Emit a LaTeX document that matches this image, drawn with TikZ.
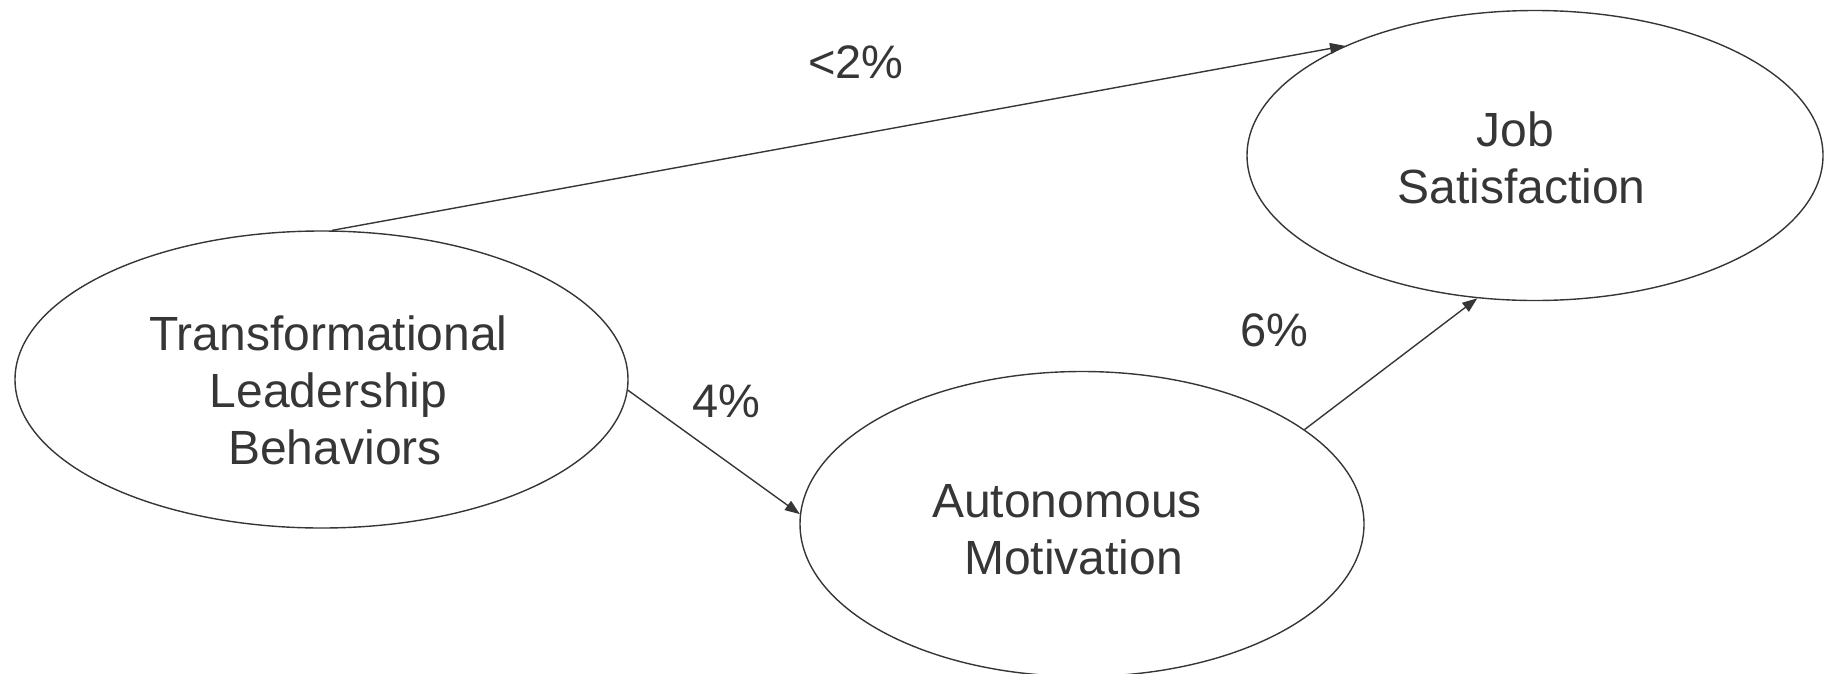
\documentclass[tikz,border=0pt]{standalone}
\usepackage{fontspec}
\setmainfont{Liberation Sans}
\usetikzlibrary{shapes.geometric,arrows.meta}
\definecolor{ink}{HTML}{363636}
\newcommand\elltext[3]{\kern#1\raisebox{#2}[\height][\depth]{\begin{tabular}{@{}c@{}}#3\end{tabular}}\kern-#1}
\newcommand\lead{\hspace*{13pt}}
\tikzset{
  ell/.style={ellipse, draw=ink, line width=1.4pt, inner sep=0pt, text=ink,
    font=\fontsize{48}{57}\selectfont},
  pct/.style={text=ink, inner sep=0pt, font=\fontsize{47}{56}\selectfont},
  link/.style={draw=ink, line width=1.4pt, -{Triangle[length=15pt,width=11pt]}}
}
\begin{document}
\begin{tikzpicture}[x=1pt,y=-1pt]
\useasboundingbox (0,0) rectangle (1826,673);
\node[ell, minimum width=613pt, minimum height=297pt] (TL) at (321.5,379.5)
  {\elltext{7pt}{-17pt}{Transformational\\Leadership\\\lead Behaviors}};
\node[ell, minimum width=564pt, minimum height=305pt] (AM) at (1082,524)
  {\elltext{-15pt}{-11pt}{Autonomous\\\lead Motivation}};
\node[ell, minimum width=576pt, minimum height=290pt] (JS) at (1535,155.5)
  {\elltext{-20pt}{-8pt}{Job\\\lead Satisfaction}};
\draw[link] (TL.86) -- (JS.150);
\draw[link] (TL.-2) -- (AM.178);
\draw[link] (AM.23) -- (JS.248);
\node[pct] (l1) at (856,62) {<2\%};
\node[pct] (l2) at (726,401) {4\%};
\node[pct] (l3) at (1274,330) {6\%};
\end{tikzpicture}
\end{document}
